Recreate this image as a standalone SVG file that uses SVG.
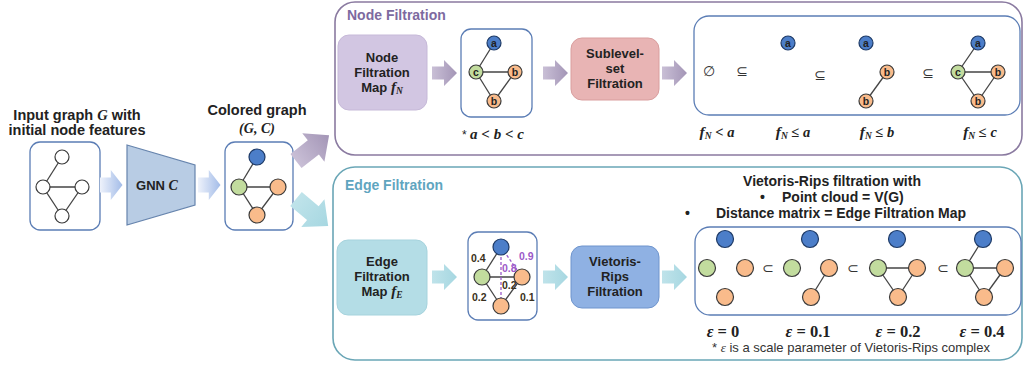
<svg xmlns="http://www.w3.org/2000/svg" width="1025" height="366" viewBox="0 0 1025 366">
<style>
  text { font-family: "Liberation Sans", Arial, sans-serif; fill: #222; }
  .lbl { font-size: 14.5px; font-weight: bold; text-anchor: middle; }
  .blk { font-size: 13px; font-weight: bold; text-anchor: middle; }
  .hdr { font-size: 14px; font-weight: bold; }
  .hN { font-size: 14px; font-weight: bold; fill: #7d6aa0; }
  .hE { font-size: 14px; font-weight: bold; fill: #5fa5bf; }
  .note { font-size: 13px; text-anchor: middle; fill: #333; }
  .math { font-family: "Liberation Serif", "Times New Roman", serif; font-weight: bold; font-style: italic; }
  .mathu { font-family: "Liberation Serif", "Times New Roman", serif; font-weight: bold; }
  .sub { font-size: 9.5px; }
  .panel { fill: #fff; stroke-width: 1.6; }
  .card { fill: #fff; stroke: #5b7db5; stroke-width: 1.3; }
  .e { stroke: #444; stroke-width: 1.3; fill: none; }
  .dash { stroke: #9b59c9; stroke-width: 1.3; stroke-dasharray: 3 2; fill: none; }
  .n { stroke: #3a3a3a; stroke-width: 1.2; }
  .w { fill: #fff; }
  .bl { fill: #4c7ec9; stroke: #1e3a66; }
  .gr { fill: #c2dc9e; }
  .or { fill: #f9bb8b; }
  .let { font-size: 10.5px; font-weight: bold; text-anchor: middle; fill: #222; }
  .wt { font-size: 10.5px; font-weight: bold; fill: #3a3020; }
  .wp { font-size: 10.5px; font-weight: bold; fill: #9b59c9; }
  .sym { font-family: "DejaVu Sans", sans-serif; font-size: 14px; text-anchor: middle; fill: #333; }
  .eps { font-size: 16.5px; text-anchor: middle; }
</style>
<defs>
  <path id="arrow" d="M0,-6.5H12V-13L25,0L12,13V6.5H0Z"/>
  <linearGradient id="gBlue" x1="0" y1="0" x2="1" y2="0">
    <stop offset="0" stop-color="#eef2fb"/>
    <stop offset="1" stop-color="#a3bce8"/>
  </linearGradient>
  <linearGradient id="gPurple" x1="0" y1="0" x2="1" y2="0">
    <stop offset="0" stop-color="#c9bfd6"/>
    <stop offset="1" stop-color="#a395b6"/>
  </linearGradient>
  <linearGradient id="gTeal" x1="0" y1="0" x2="1" y2="0">
    <stop offset="0" stop-color="#bfe3ea"/>
    <stop offset="1" stop-color="#a6d7e1"/>
  </linearGradient>
</defs>

<!-- Input graph -->
<g id="input-graph">
  <text class="lbl" x="77" y="120">Input graph <tspan class="math">G</tspan> with</text>
  <text class="lbl" x="77" y="135">initial node features</text>
  <rect class="card" x="30" y="142" width="70" height="88" rx="10"/>
  <line class="e" x1="62" y1="157" x2="43" y2="187"/>
  <line class="e" x1="43" y1="187" x2="82" y2="187"/>
  <line class="e" x1="43" y1="187" x2="62" y2="216"/>
  <line class="e" x1="82" y1="187" x2="62" y2="216"/>
  <circle class="n w" cx="62" cy="157" r="7"/>
  <circle class="n w" cx="43" cy="187" r="7"/>
  <circle class="n w" cx="82" cy="187" r="7"/>
  <circle class="n w" cx="62" cy="216" r="7"/>
</g>

<!-- GNN encoder -->
<g id="gnn">
  <path d="M127,145 L195,165 L195,205 L127,225 Z" fill="#b8cce4" stroke="#6684ad" stroke-width="1.2"/>
  <text class="blk" x="157" y="190">GNN <tspan class="math" font-size="14">C</tspan></text>
</g>

<!-- Colored graph -->
<g id="colored-graph">
  <text class="lbl" x="257" y="115">Colored graph</text>
  <text class="math" x="257" y="133" font-size="14" text-anchor="middle">(G, C)</text>
  <rect class="card" x="225" y="142" width="68" height="88" rx="10"/>
  <line class="e" x1="257" y1="157" x2="239" y2="187"/>
  <line class="e" x1="239" y1="187" x2="278" y2="187"/>
  <line class="e" x1="239" y1="187" x2="257" y2="215"/>
  <line class="e" x1="278" y1="187" x2="257" y2="215"/>
  <circle class="n bl" cx="257" cy="157" r="8"/>
  <circle class="n gr" cx="239" cy="187" r="8"/>
  <circle class="n or" cx="278" cy="187" r="8"/>
  <circle class="n or" cx="257" cy="215" r="8"/>
</g>

<!-- Node filtration panel -->
<g id="node-filtration">
  <rect class="panel" x="335" y="2" width="687" height="153" rx="20" stroke="#8a7aa0"/>
  <text class="hN" x="347" y="20">Node Filtration</text>
</g>

<g id="node-filtration-map">
  <rect x="338" y="35" width="89" height="75" rx="11" fill="#d2c6e2" stroke="#c6b9d8"/>
  <text class="blk" x="382" y="62">Node</text>
  <text class="blk" x="382" y="77">Filtration</text>
  <text class="blk" x="382" y="92">Map <tspan class="math" font-size="15">f</tspan><tspan class="math sub" dy="2">N</tspan></text>
</g>

<g id="node-valued-graph">
  <rect class="card" x="461" y="29" width="71" height="88" rx="10"/>
  <line class="e" x1="494" y1="43" x2="476" y2="72"/>
  <line class="e" x1="476" y1="72" x2="515" y2="72"/>
  <line class="e" x1="476" y1="72" x2="494" y2="101"/>
  <line class="e" x1="515" y1="72" x2="494" y2="101"/>
  <circle class="n bl" cx="494" cy="43" r="7"/>
  <circle class="n gr" cx="476" cy="72" r="7"/>
  <circle class="n or" cx="515" cy="72" r="7"/>
  <circle class="n or" cx="494" cy="101" r="7"/>
  <text class="let" x="494" y="46.5">a</text>
  <text class="let" x="476" y="75.5">c</text>
  <text class="let" x="515" y="75.5">b</text>
  <text class="let" x="494" y="104.5">b</text>
  <text x="493" y="139" font-size="15" text-anchor="middle"><tspan font-size="12">* </tspan><tspan class="math">a</tspan><tspan class="mathu"> &lt; </tspan><tspan class="math">b</tspan><tspan class="mathu"> &lt; </tspan><tspan class="math">c</tspan></text>
</g>

<g id="sublevel-filtration">
  <rect x="571" y="38" width="88" height="62" rx="11" fill="#e8b4b4" stroke="#d99e9e"/>
  <text class="blk" x="615" y="58">Sublevel-</text>
  <text class="blk" x="615" y="73">set</text>
  <text class="blk" x="615" y="88">Filtration</text>
</g>

<g id="sublevel-sequence">
  <rect class="card" x="694" y="16" width="326" height="99" rx="15"/>
  <text class="sym" x="709" y="76">∅</text>
  <text class="sym" x="742" y="76">⊆</text>
  <circle class="n bl" cx="788" cy="43" r="7"/>
  <text class="let" x="788" y="46.5">a</text>
  <text class="sym" x="820" y="80">⊆</text>
  <line class="e" x1="887" y1="72" x2="866" y2="101"/>
  <circle class="n bl" cx="866" cy="43" r="7"/>
  <circle class="n or" cx="887" cy="72" r="7"/>
  <circle class="n or" cx="866" cy="101" r="7"/>
  <text class="let" x="866" y="46.5">a</text>
  <text class="let" x="887" y="75.5">b</text>
  <text class="let" x="866" y="104.5">b</text>
  <text class="sym" x="928" y="78">⊆</text>
  <line class="e" x1="978" y1="43" x2="958" y2="72"/>
  <line class="e" x1="958" y1="72" x2="998" y2="72"/>
  <line class="e" x1="958" y1="72" x2="978" y2="101"/>
  <line class="e" x1="998" y1="72" x2="978" y2="101"/>
  <circle class="n bl" cx="978" cy="43" r="7"/>
  <circle class="n gr" cx="958" cy="72" r="7"/>
  <circle class="n or" cx="998" cy="72" r="7"/>
  <circle class="n or" cx="978" cy="101" r="7"/>
  <text class="let" x="978" y="46.5">a</text>
  <text class="let" x="958" y="75.5">c</text>
  <text class="let" x="998" y="75.5">b</text>
  <text class="let" x="978" y="104.5">b</text>
  <text x="717" y="137" font-size="14.5" text-anchor="middle"><tspan class="math" font-size="15.5">f</tspan><tspan class="math sub" dy="2">N</tspan><tspan class="mathu" dy="-2"> &lt; </tspan><tspan class="math">a</tspan></text>
  <text x="793" y="137" font-size="14.5" text-anchor="middle"><tspan class="math" font-size="15.5">f</tspan><tspan class="math sub" dy="2">N</tspan><tspan class="mathu" dy="-2"> ≤ </tspan><tspan class="math">a</tspan></text>
  <text x="877" y="137" font-size="14.5" text-anchor="middle"><tspan class="math" font-size="15.5">f</tspan><tspan class="math sub" dy="2">N</tspan><tspan class="mathu" dy="-2"> ≤ </tspan><tspan class="math">b</tspan></text>
  <text x="980" y="137" font-size="14.5" text-anchor="middle"><tspan class="math" font-size="15.5">f</tspan><tspan class="math sub" dy="2">N</tspan><tspan class="mathu" dy="-2"> ≤ </tspan><tspan class="math">c</tspan></text>
</g>

<!-- Edge filtration panel -->
<g id="edge-filtration">
  <rect class="panel" x="333" y="167" width="689" height="193" rx="22" stroke="#6aa6b6"/>
  <text class="hE" x="345" y="190">Edge Filtration</text>
</g>

<g id="edge-filtration-map">
  <rect x="337" y="240" width="90" height="75" rx="11" fill="#b4dde6" stroke="#a6d3dd"/>
  <text class="blk" x="382" y="266">Edge</text>
  <text class="blk" x="382" y="281">Filtration</text>
  <text class="blk" x="382" y="296">Map <tspan class="math" font-size="15">f</tspan><tspan class="math sub" dy="2">E</tspan></text>
</g>

<g id="edge-weighted-graph">
  <rect class="card" x="468" y="232" width="69" height="88" rx="10"/>
  <line class="e" x1="501" y1="247" x2="482" y2="277"/>
  <line class="e" x1="482" y1="277" x2="522" y2="277"/>
  <line class="e" x1="482" y1="277" x2="501" y2="306"/>
  <line class="e" x1="522" y1="277" x2="501" y2="306"/>
  <line class="dash" x1="501" y1="247" x2="501" y2="306"/>
  <line class="dash" x1="501" y1="247" x2="522" y2="277"/>
  <circle class="n bl" cx="501" cy="247" r="8"/>
  <circle class="n gr" cx="482" cy="277" r="8"/>
  <circle class="n or" cx="522" cy="277" r="8"/>
  <circle class="n or" cx="501" cy="306" r="8"/>
  <text class="wt" x="471" y="262">0.4</text>
  <text class="wp" x="519" y="260">0.9</text>
  <text class="wp" x="502" y="272">0.8</text>
  <text class="wt" x="502" y="289">0.2</text>
  <text class="wt" x="472" y="301">0.2</text>
  <text class="wt" x="520" y="301">0.1</text>
</g>

<g id="vietoris-rips">
  <rect x="571" y="246" width="88" height="62" rx="11" fill="#8fb1e3" stroke="#6e94cd"/>
  <text class="blk" x="615" y="266">Vietoris-</text>
  <text class="blk" x="615" y="281">Rips</text>
  <text class="blk" x="615" y="296">Filtration</text>
</g>

<g id="vr-sequence">
  <text class="hdr" x="832" y="186" text-anchor="middle">Vietoris-Rips filtration  with</text>
  <text class="hdr" x="760" y="202">•</text>
  <text class="hdr" x="782" y="202">Point  cloud = V(G)</text>
  <text class="hdr" x="685" y="218">•</text>
  <text class="hdr" x="716" y="218">Distance matrix = Edge Filtration  Map</text>
  <rect class="card" x="695" y="227" width="326" height="88" rx="15"/>
  <!-- eps = 0 -->
  <circle class="n bl" cx="725" cy="239" r="8.5"/>
  <circle class="n gr" cx="707" cy="268" r="8.5"/>
  <circle class="n or" cx="745" cy="268" r="8.5"/>
  <circle class="n or" cx="725" cy="297" r="8.5"/>
  <text class="sym" x="768" y="273">⊂</text>
  <!-- eps = 0.1 -->
  <line class="e" x1="829" y1="268" x2="811" y2="297"/>
  <circle class="n bl" cx="810" cy="239" r="8.5"/>
  <circle class="n gr" cx="792" cy="268" r="8.5"/>
  <circle class="n or" cx="829" cy="268" r="8.5"/>
  <circle class="n or" cx="811" cy="297" r="8.5"/>
  <text class="sym" x="853" y="273">⊂</text>
  <!-- eps = 0.2 -->
  <line class="e" x1="878" y1="268" x2="917" y2="268"/>
  <line class="e" x1="878" y1="268" x2="898" y2="297"/>
  <line class="e" x1="917" y1="268" x2="898" y2="297"/>
  <circle class="n bl" cx="897" cy="239" r="8.5"/>
  <circle class="n gr" cx="878" cy="268" r="8.5"/>
  <circle class="n or" cx="917" cy="268" r="8.5"/>
  <circle class="n or" cx="898" cy="297" r="8.5"/>
  <text class="sym" x="943" y="273">⊂</text>
  <!-- eps = 0.4 -->
  <line class="e" x1="983" y1="239" x2="965" y2="268"/>
  <line class="e" x1="965" y1="268" x2="1005" y2="268"/>
  <line class="e" x1="965" y1="268" x2="984" y2="297"/>
  <line class="e" x1="1005" y1="268" x2="984" y2="297"/>
  <circle class="n bl" cx="983" cy="239" r="8.5"/>
  <circle class="n gr" cx="965" cy="268" r="8.5"/>
  <circle class="n or" cx="1005" cy="268" r="8.5"/>
  <circle class="n or" cx="984" cy="297" r="8.5"/>
  <text class="eps" x="723" y="337"><tspan class="math">ε</tspan><tspan class="mathu"> = 0</tspan></text>
  <text class="eps" x="808" y="337"><tspan class="math">ε</tspan><tspan class="mathu"> = 0.1</tspan></text>
  <text class="eps" x="898" y="337"><tspan class="math">ε</tspan><tspan class="mathu"> = 0.2</tspan></text>
  <text class="eps" x="982" y="337"><tspan class="math">ε</tspan><tspan class="mathu"> = 0.4</tspan></text>
  <text class="note" x="851" y="352">* <tspan font-family="Liberation Serif, serif" font-style="italic">ε</tspan> is a scale parameter of Vietoris-Rips complex</text>
</g>

<!-- Block arrows between stages -->
<g id="connectors">
  <use href="#arrow" transform="translate(100,185) scale(0.9,1.15)" fill="url(#gBlue)"/>
  <use href="#arrow" transform="translate(198,185) scale(0.9,1.15)" fill="url(#gBlue)"/>
  <path d="M0,-9H22V-18L42,0L22,18V9H0Z" transform="translate(296,161) rotate(-38)" fill="url(#gPurple)"/>
  <path d="M0,-9H22V-18L42,0L22,18V9H0Z" transform="translate(296,199) rotate(40)" fill="url(#gTeal)"/>
  <use href="#arrow" transform="translate(432,73)" fill="url(#gPurple)"/>
  <use href="#arrow" transform="translate(543,73)" fill="url(#gPurple)"/>
  <use href="#arrow" transform="translate(662,73)" fill="url(#gPurple)"/>
  <use href="#arrow" transform="translate(432,277)" fill="url(#gTeal)"/>
  <use href="#arrow" transform="translate(543,277)" fill="url(#gTeal)"/>
  <use href="#arrow" transform="translate(662,277)" fill="url(#gTeal)"/>
</g>
</svg>
